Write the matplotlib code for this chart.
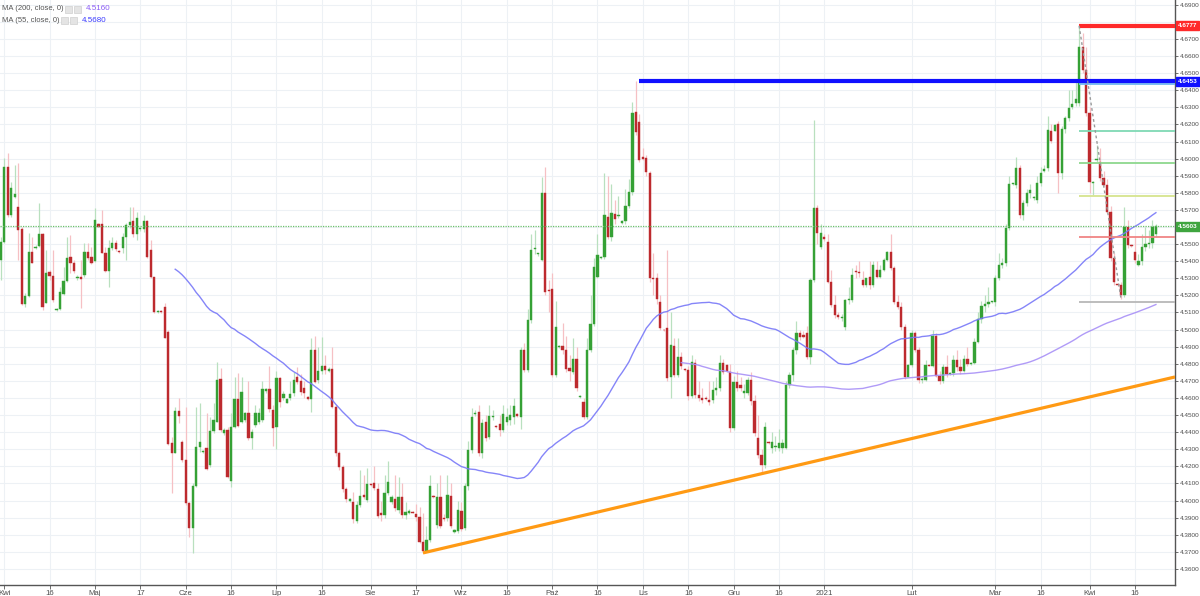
import numpy as np
import pandas as pd
import matplotlib
matplotlib.use("Agg")
import matplotlib.pyplot as plt
from matplotlib.patches import Rectangle

plt.rcParams['font.family'] = ['Liberation Sans', 'DejaVu Sans']

# ---------------- data ----------------
start_date = "2020-03-26"
end_date = "2021-04-23"
missing_days = ["2020-12-25", "2021-01-01"]   # no bar on these days (Saturdays also absent)

opens = [
 4.5350, 4.5300, 4.5250, 4.5200, 4.5407, 4.5514, 4.5953, 4.5670, 4.5778, 4.5719,
 4.5587, 4.5150, 4.5197, 4.5456, 4.5475, 4.5489, 4.5557, 4.5158, 4.5339, 4.5314,
 4.5115, 4.5119, 4.5206, 4.5286, 4.5427, 4.5392, 4.5300, 4.5310, 4.5320, 4.5456,
 4.5427, 4.5403, 4.5618, 4.5616, 4.5450, 4.5343, 4.5479, 4.5505, 4.5458, 4.5475,
 4.5544, 4.5612, 4.5635, 4.5557, 4.5587, 4.5587, 4.5635, 4.5466, 4.5306, 4.5105,
 4.5111, 4.5134, 4.4988, 4.4339, 4.4280, 4.4526, 4.4341, 4.4238, 4.3984, 4.3838,
 4.4086, 4.4312, 4.4282, 4.4306, 4.4208, 4.4409, 4.4462, 4.4709, 4.4394, 4.4413,
 4.4117, 4.4433, 4.4594, 4.4462, 4.4471, 4.4514, 4.4364, 4.4442, 4.4462, 4.4471,
 4.4640, 4.4651, 4.4530, 4.4432, 4.4715, 4.4600, 4.4573, 4.4598, 4.4627, 4.4725,
 4.4701, 4.4657, 4.4604, 4.4594, 4.4881, 4.4705, 4.4758, 4.4787, 4.4760, 4.4768,
 4.4549, 4.4276, 4.4198, 4.4066, 4.3998, 4.3994, 4.3881, 4.3974, 4.4033, 4.4004,
 4.4095, 4.4105, 4.4066, 4.3929, 4.3916, 4.4046, 4.3990, 4.4007, 4.3945, 4.4023,
 4.3916, 4.3929, 4.3935, 4.3922, 4.3902, 4.3760, 4.3705, 4.3770, 4.4023, 4.3857,
 4.4023, 4.3900, 4.3896, 4.4027, 4.3818, 4.3822, 4.3941, 4.3838, 4.4085, 4.4296,
 4.4505, 4.4520, 4.4277, 4.4462, 4.4374, 4.4490, 4.4437, 4.4448, 4.4413, 4.4462,
 4.4472, 4.4487, 4.4507, 4.4491, 4.4881, 4.4764, 4.5057, 4.5470, 4.5441, 4.5408,
 4.5797, 4.5232, 4.5236, 4.4735, 4.4901, 4.4904, 4.4881, 4.4774, 4.4754, 4.4827,
 4.4608, 4.4579, 4.4491, 4.4881, 4.5031, 4.5310, 4.5420, 4.5427, 4.5661, 4.5544,
 4.5676, 4.5665, 4.5626, 4.5636, 4.5725, 4.5807, 4.6275, 4.6212, 4.6010, 4.6002,
 4.5914, 4.5300, 4.5300, 4.5164, 4.4998, 4.5008, 4.4725, 4.4904, 4.4735, 4.4842,
 4.4768, 4.4764, 4.4612, 4.4803, 4.4618, 4.4600, 4.4600, 4.4589, 4.4589, 4.4647,
 4.4657, 4.4803, 4.4793, 4.4754, 4.4423, 4.4696, 4.4676, 4.4628, 4.4628, 4.4706,
 4.4580, 4.4365, 4.4267, 4.4208, 4.4345, 4.4306, 4.4316, 4.4306, 4.4306, 4.4306,
 4.4676, 4.4735, 4.4881, 4.4979, 4.4969, 4.4979, 4.4842, 4.5290, 4.5709, 4.5485,
 4.5540, 4.5515, 4.5281, 4.5144, 4.5086, 4.5066, 4.5017, 4.5173, 4.5173, 4.5339,
 4.5335, 4.5290, 4.5261, 4.5310, 4.5261, 4.5349, 4.5310, 4.5349, 4.5407, 4.5456,
 4.5359, 4.5164, 4.5135, 4.5017, 4.4725, 4.4793, 4.4979, 4.4881, 4.4706, 4.4706,
 4.4793, 4.4790, 4.4960, 4.4730, 4.4700, 4.4780, 4.4740, 4.4745, 4.4820, 4.4780,
 4.4760, 4.4830, 4.4800, 4.4805, 4.4930, 4.5060, 4.5140, 4.5150, 4.5163, 4.5163,
 4.5300, 4.5378, 4.5388, 4.5592, 4.5851, 4.5846, 4.5943, 4.5670, 4.5738, 4.5797,
 4.5768, 4.5758, 4.5855, 4.5929, 4.5943, 4.6163, 4.6163, 4.6202, 4.5918, 4.6171,
 4.6235, 4.6304, 4.6323, 4.6323, 4.6655, 4.6518, 4.6265, 4.5859, 4.5992, 4.5982,
 4.5885, 4.5846, 4.5690, 4.5417, 4.5265, 4.5261, 4.5202, 4.5602, 4.5495, 4.5456,
 4.5378, 4.5400, 4.5481, 4.5500, 4.5505, 4.5560]

highs = [
 4.5500, 4.5400, 4.5260, 4.5300, 4.5544, 4.6002, 4.6031, 4.5865, 4.5963, 4.5973,
 4.5602, 4.5212, 4.5563, 4.5544, 4.5495, 4.5739, 4.5563, 4.5466, 4.5349, 4.5466,
 4.5125, 4.5251, 4.5368, 4.5544, 4.5553, 4.5407, 4.5320, 4.5407, 4.5505, 4.5505,
 4.5485, 4.5709, 4.5622, 4.5700, 4.5485, 4.5524, 4.5544, 4.5524, 4.5466, 4.5563,
 4.5622, 4.5719, 4.5719, 4.5690, 4.5602, 4.5670, 4.5641, 4.5524, 4.5310, 4.5115,
 4.5115, 4.5154, 4.4998, 4.4374, 4.4550, 4.4598, 4.4355, 4.4550, 4.3994, 4.4101,
 4.4550, 4.4569, 4.4296, 4.4511, 4.4491, 4.4569, 4.4813, 4.4774, 4.4423, 4.4433,
 4.4511, 4.4725, 4.4744, 4.4725, 4.4520, 4.4700, 4.4420, 4.4560, 4.4540, 4.4700,
 4.4660, 4.4790, 4.4560, 4.4760, 4.4725, 4.4640, 4.4600, 4.4700, 4.4750, 4.4780,
 4.4740, 4.4700, 4.4610, 4.4950, 4.4960, 4.4900, 4.4959, 4.4850, 4.4780, 4.4900,
 4.4560, 4.4290, 4.4210, 4.4080, 4.4015, 4.4050, 4.4000, 4.4180, 4.4150, 4.4190,
 4.4100, 4.4200, 4.4100, 4.4000, 4.4150, 4.4230, 4.4030, 4.4150, 4.4140, 4.4100,
 4.3990, 4.3950, 4.3940, 4.3980, 4.3960, 4.3926, 4.3850, 4.4150, 4.4030, 4.4100,
 4.4150, 4.3920, 4.4150, 4.4100, 4.3835, 4.4000, 4.3990, 4.4100, 4.4350, 4.4540,
 4.4530, 4.4560, 4.4480, 4.4500, 4.4560, 4.4530, 4.4445, 4.4500, 4.4560, 4.4540,
 4.4560, 4.4600, 4.4515, 4.4900, 4.4920, 4.5120, 4.5560, 4.5580, 4.5450, 4.5890,
 4.5953, 4.5290, 4.5330, 4.5170, 4.4910, 4.5040, 4.4960, 4.4850, 4.4950, 4.4900,
 4.4615, 4.4600, 4.4950, 4.5200, 4.5420, 4.5560, 4.5430, 4.5914, 4.5900, 4.5850,
 4.5760, 4.5780, 4.5640, 4.5820, 4.5880, 4.6333, 4.6453, 4.6260, 4.6060, 4.6020,
 4.5930, 4.5450, 4.5330, 4.5200, 4.5005, 4.5466, 4.5100, 4.4950, 4.4950, 4.4870,
 4.4775, 4.4790, 4.4850, 4.4830, 4.4700, 4.4660, 4.4610, 4.4700, 4.4700, 4.4720,
 4.4850, 4.4830, 4.4800, 4.4800, 4.4730, 4.4760, 4.4720, 4.4680, 4.4720, 4.4750,
 4.4620, 4.4500, 4.4300, 4.4460, 4.4350, 4.4400, 4.4380, 4.4420, 4.4360, 4.4700,
 4.4750, 4.4900, 4.5050, 4.5000, 4.4990, 4.5020, 4.5300, 4.6226, 4.5730, 4.5620,
 4.5560, 4.5560, 4.5350, 4.5200, 4.5100, 4.5090, 4.5180, 4.5250, 4.5360, 4.5380,
 4.5400, 4.5340, 4.5300, 4.5400, 4.5400, 4.5400, 4.5380, 4.5420, 4.5460, 4.5560,
 4.5370, 4.5200, 4.5160, 4.5030, 4.4800, 4.5000, 4.4990, 4.4900, 4.4720, 4.4820,
 4.4800, 4.5000, 4.4980, 4.4760, 4.4800, 4.4850, 4.4750, 4.4850, 4.4880, 4.4830,
 4.4850, 4.4900, 4.4810, 4.4950, 4.5100, 4.5170, 4.5200, 4.5250, 4.5170, 4.5320,
 4.5450, 4.5420, 4.5620, 4.5900, 4.5860, 4.6010, 4.5960, 4.5760, 4.5820, 4.5850,
 4.5780, 4.5900, 4.5950, 4.5960, 4.6250, 4.6200, 4.6200, 4.6220, 4.6190, 4.6250,
 4.6400, 4.6400, 4.6450, 4.6777, 4.6733, 4.6650, 4.6300, 4.5870, 4.6080, 4.6060,
 4.5930, 4.5880, 4.5720, 4.5450, 4.5270, 4.5280, 4.5719, 4.5641, 4.5500, 4.5550,
 4.5440, 4.5560, 4.5600, 4.5580, 4.5640, 4.5620]

lows = [
 4.5250, 4.5200, 4.5190, 4.5150, 4.5290, 4.5505, 4.5661, 4.5661, 4.5768, 4.5407,
 4.5144, 4.5134, 4.5193, 4.5388, 4.5470, 4.5485, 4.5115, 4.5154, 4.5290, 4.5164,
 4.5111, 4.5115, 4.5203, 4.5281, 4.5329, 4.5329, 4.5290, 4.5125, 4.5310, 4.5407,
 4.5384, 4.5397, 4.5598, 4.5446, 4.5339, 4.5251, 4.5466, 4.5462, 4.5446, 4.5446,
 4.5407, 4.5592, 4.5544, 4.5524, 4.5579, 4.5573, 4.5417, 4.5300, 4.5099, 4.5099,
 4.5099, 4.4949, 4.4325, 4.4043, 4.4277, 4.4452, 4.4228, 4.3975, 4.3789, 4.3692,
 4.4082, 4.4286, 4.4277, 4.4179, 4.4199, 4.4394, 4.4462, 4.4403, 4.4384, 4.4130,
 4.4082, 4.4423, 4.4433, 4.4452, 4.4462, 4.4355, 4.4300, 4.4430, 4.4450, 4.4460,
 4.4630, 4.4520, 4.4320, 4.4300, 4.4550, 4.4590, 4.4570, 4.4590, 4.4610, 4.4680,
 4.4620, 4.4600, 4.4590, 4.4520, 4.4690, 4.4690, 4.4740, 4.4740, 4.4750, 4.4540,
 4.4260, 4.4180, 4.4050, 4.3990, 4.3990, 4.3870, 4.3870, 4.3960, 4.4010, 4.3990,
 4.4085, 4.4060, 4.3900, 4.3880, 4.3900, 4.4030, 4.3980, 4.3940, 4.3930, 4.3900,
 4.3890, 4.3920, 4.3925, 4.3880, 4.3750, 4.3695, 4.3700, 4.3760, 4.4015, 4.3840,
 4.3840, 4.3880, 4.3880, 4.3840, 4.3810, 4.3810, 4.3820, 4.3830, 4.4060, 4.4280,
 4.4495, 4.4260, 4.4250, 4.4350, 4.4360, 4.4470, 4.4425, 4.4380, 4.4400, 4.4440,
 4.4440, 4.4450, 4.4490, 4.4420, 4.4750, 4.4750, 4.5040, 4.5440, 4.5430, 4.5400,
 4.5200, 4.5100, 4.4720, 4.4720, 4.4895, 4.4860, 4.4750, 4.4700, 4.4740, 4.4640,
 4.4600, 4.4480, 4.4480, 4.4870, 4.5020, 4.5300, 4.5410, 4.5410, 4.5530, 4.5520,
 4.5620, 4.5650, 4.5620, 4.5620, 4.5710, 4.5790, 4.6140, 4.5980, 4.5990, 4.5900,
 4.5280, 4.5200, 4.5150, 4.5000, 4.4990, 4.4700, 4.4600, 4.4720, 4.4720, 4.4770,
 4.4760, 4.4590, 4.4600, 4.4600, 4.4580, 4.4570, 4.4590, 4.4560, 4.4570, 4.4620,
 4.4640, 4.4740, 4.4754, 4.4400, 4.4410, 4.4640, 4.4640, 4.4600, 4.4620, 4.4560,
 4.4380, 4.4250, 4.4160, 4.4190, 4.4330, 4.4280, 4.4290, 4.4290, 4.4280, 4.4300,
 4.4660, 4.4700, 4.4860, 4.4940, 4.4950, 4.4830, 4.4800, 4.5280, 4.5500, 4.5470,
 4.5520, 4.5270, 4.5130, 4.5070, 4.5060, 4.5050, 4.5000, 4.5150, 4.5160, 4.5300,
 4.5310, 4.5250, 4.5250, 4.5240, 4.5250, 4.5300, 4.5300, 4.5340, 4.5400, 4.5350,
 4.5150, 4.5120, 4.5000, 4.4710, 4.4720, 4.4780, 4.4870, 4.4690, 4.4690, 4.4700,
 4.4785, 4.4780, 4.4720, 4.4680, 4.4690, 4.4720, 4.4735, 4.4730, 4.4760, 4.4740,
 4.4750, 4.4790, 4.4795, 4.4800, 4.4920, 4.5040, 4.5100, 4.5130, 4.5155, 4.5140,
 4.5290, 4.5360, 4.5370, 4.5580, 4.5845, 4.5830, 4.5650, 4.5640, 4.5720, 4.5770,
 4.5760, 4.5740, 4.5840, 4.5920, 4.5930, 4.6090, 4.6160, 4.5800, 4.5880, 4.6150,
 4.6220, 4.6290, 4.6310, 4.6310, 4.6500, 4.6250, 4.5800, 4.5790, 4.5980, 4.5870,
 4.5840, 4.5680, 4.5400, 4.5260, 4.5255, 4.5180, 4.5190, 4.5480, 4.5485, 4.5390,
 4.5370, 4.5380, 4.5460, 4.5480, 4.5480, 4.5540]

closes = [
 4.5300, 4.5250, 4.5200, 4.5190, 4.5514, 4.5953, 4.5670, 4.5826, 4.5791, 4.5583,
 4.5150, 4.5197, 4.5456, 4.5392, 4.5485, 4.5557, 4.5134, 4.5329, 4.5314, 4.5173,
 4.5119, 4.5222, 4.5286, 4.5417, 4.5392, 4.5343, 4.5306, 4.5294, 4.5456, 4.5417,
 4.5392, 4.5641, 4.5602, 4.5450, 4.5343, 4.5479, 4.5505, 4.5470, 4.5452, 4.5544,
 4.5612, 4.5631, 4.5557, 4.5651, 4.5592, 4.5635, 4.5427, 4.5306, 4.5105, 4.5109,
 4.5105, 4.4953, 4.4331, 4.4280, 4.4526, 4.4495, 4.4238, 4.3984, 4.3838, 4.4086,
 4.4312, 4.4341, 4.4286, 4.4185, 4.4409, 4.4472, 4.4705, 4.4413, 4.4413, 4.4140,
 4.4433, 4.4594, 4.4436, 4.4637, 4.4510, 4.4364, 4.4403, 4.4510, 4.4510, 4.4651,
 4.4651, 4.4534, 4.4423, 4.4715, 4.4579, 4.4623, 4.4592, 4.4623, 4.4705, 4.4696,
 4.4637, 4.4627, 4.4596, 4.4881, 4.4696, 4.4758, 4.4787, 4.4764, 4.4770, 4.4549,
 4.4276, 4.4198, 4.4066, 4.4007, 4.4010, 4.3890, 4.3974, 4.4027, 4.4023, 4.4095,
 4.4090, 4.4072, 4.3910, 4.3916, 4.4046, 4.4111, 4.4020, 4.3955, 4.4023, 4.3916,
 4.3935, 4.3941, 4.3929, 4.3902, 4.3760, 4.3705, 4.3770, 4.4087, 4.4019, 4.4019,
 4.3851, 4.3890, 4.4033, 4.3851, 4.3828, 4.3945, 4.3832, 4.4085, 4.4296, 4.4491,
 4.4515, 4.4277, 4.4452, 4.4365, 4.4495, 4.4497, 4.4429, 4.4413, 4.4507, 4.4491,
 4.4501, 4.4554, 4.4497, 4.4881, 4.4764, 4.5057, 4.5466, 4.5476, 4.5446, 4.5797,
 4.5222, 4.5226, 4.4735, 4.5018, 4.4904, 4.4881, 4.4768, 4.4760, 4.4827, 4.4657,
 4.4612, 4.4491, 4.4881, 4.5031, 4.5368, 4.5437, 4.5427, 4.5671, 4.5544, 4.5684,
 4.5645, 4.5670, 4.5636, 4.5725, 4.5807, 4.6265, 4.6158, 4.5992, 4.5995, 4.5924,
 4.5300, 4.5294, 4.5177, 4.5012, 4.4995, 4.4715, 4.4910, 4.4735, 4.4842, 4.4788,
 4.4765, 4.4612, 4.4813, 4.4618, 4.4600, 4.4589, 4.4595, 4.4579, 4.4647, 4.4657,
 4.4803, 4.4754, 4.4760, 4.4423, 4.4696, 4.4657, 4.4657, 4.4640, 4.4706, 4.4580,
 4.4394, 4.4267, 4.4208, 4.4433, 4.4335, 4.4345, 4.4320, 4.4335, 4.4335, 4.4676,
 4.4735, 4.4881, 4.4979, 4.4959, 4.4959, 4.4842, 4.5290, 4.5709, 4.5563, 4.5563,
 4.5530, 4.5281, 4.5144, 4.5086, 4.5076, 4.5070, 4.5173, 4.5173, 4.5320, 4.5335,
 4.5329, 4.5261, 4.5300, 4.5261, 4.5378, 4.5310, 4.5349, 4.5407, 4.5456, 4.5359,
 4.5164, 4.5135, 4.5017, 4.4725, 4.4793, 4.4979, 4.4881, 4.4706, 4.4710, 4.4793,
 4.4790, 4.4960, 4.4730, 4.4700, 4.4780, 4.4740, 4.4745, 4.4820, 4.4780, 4.4760,
 4.4830, 4.4800, 4.4805, 4.4930, 4.5060, 4.5140, 4.5150, 4.5163, 4.5165, 4.5300,
 4.5378, 4.5388, 4.5592, 4.5851, 4.5855, 4.5943, 4.5670, 4.5738, 4.5797, 4.5816,
 4.5775, 4.5855, 4.5918, 4.5937, 4.6167, 4.6105, 4.6196, 4.5918, 4.6171, 4.6235,
 4.6294, 4.6319, 4.6347, 4.6655, 4.6518, 4.6265, 4.5865, 4.5862, 4.5996, 4.5885,
 4.5846, 4.5690, 4.5417, 4.5280, 4.5261, 4.5202, 4.5602, 4.5495, 4.5490, 4.5407,
 4.5400, 4.5481, 4.5500, 4.5508, 4.5602, 4.5603]

# x-axis labels (date -> text)
tick_dates = ["2020-04-01", "2020-04-16", "2020-05-01", "2020-05-17", "2020-06-01",
              "2020-06-16", "2020-07-01", "2020-07-16", "2020-08-02", "2020-08-17",
              "2020-09-01", "2020-09-16", "2020-10-01", "2020-10-16", "2020-11-01",
              "2020-11-16", "2020-12-01", "2020-12-16", "2021-01-03", "2021-02-01",
              "2021-03-01", "2021-03-16", "2021-04-01", "2021-04-16"]
tick_texts = ["Kwi", "16", "Maj", "17", "Cze", "16", "Lip", "16", "Sie", "17",
              "Wrz", "16", "Paź", "16", "Lis", "16", "Gru", "16", "2021", "Lut",
              "Mar", "16", "Kwi", "16"]

# drawings
resistance_level = 4.6453
resistance_start = "2020-10-30"
top_level = 4.6777
top_start = "2021-03-29"
trend_start = ("2020-08-19", 4.3694)
trend_end_price = 4.4723
fib_levels = [4.6436, 4.6163, 4.5972, 4.5781, 4.5543, 4.5163]
fib_colors = ["#6fb8f0", "#7fd9b4", "#8ed88e", "#d6e48e", "#f08585", "#b8b8b8"]
fib_start = "2021-03-29"
fib_line = [("2021-03-29", 4.6777), ("2021-04-12", 4.5180)]
last_price = 4.5603
legend_rows = [("MA (200, close, 0)", "4.5160", "#8a5cf6"),
               ("MA (55, close, 0)", "4.5680", "#3b3bff")]

# ---------------- figure ----------------
W, H = 1200, 596
fig = plt.figure(figsize=(W / 100, H / 100), dpi=100)
ax_bottom_px = 585
ax_right_px = 1175
ax = fig.add_axes([0, (H - ax_bottom_px) / H, ax_right_px / W, ax_bottom_px / H])
fig.patch.set_facecolor("white")

cal = pd.date_range(start_date, end_date)
cal = cal[(cal.weekday != 5) & ~cal.isin(pd.to_datetime(missing_days))]
x = np.arange(len(cal))
pos = {d: i for i, d in enumerate(cal)}

def xi(d):
    return pos[pd.Timestamp(d)]

o = np.array(opens); h = np.array(highs); l = np.array(lows); c = np.array(closes)
up = c >= o
bot = np.minimum(o, c)
hgt = np.maximum(np.abs(c - o), 0.00055)

green = "#35a135"
red = "#bd2a2e"
ax.vlines(x[up], l[up], h[up], color="#b9e0bf", lw=0.9, zorder=2)
ax.vlines(x[~up], l[~up], h[~up], color="#f6c0c4", lw=0.9, zorder=2)
ax.bar(x[up], hgt[up], bottom=bot[up], width=0.64, color=green, edgecolor=green, lw=0.3, zorder=3)
ax.bar(x[~up], hgt[~up], bottom=bot[~up], width=0.64, color=red, edgecolor=red, lw=0.3, zorder=3)

s = pd.Series(c)
ma55 = s.rolling(55).mean()
ma200 = s.rolling(200).mean()
ax.plot(x, ma55, color="#7878f8", lw=1.0, alpha=0.9, zorder=4)
ax.plot(x, ma200, color="#a890f7", lw=1.0, alpha=0.9, zorder=4)

x_left = xi("2020-04-01") - 1.2
x_right = xi("2020-04-01") + 335.47
y_bottom, y_top = 4.35064, 4.69275
ax.set_xlim(x_left, x_right)
ax.set_ylim(y_bottom, y_top)

# drawings
ax.hlines(last_price, x_left, x_right, color="#6cc06c", lw=0.9, linestyles=(0, (1, 1)), zorder=4)
ax.hlines(resistance_level, xi(resistance_start), x_right, color="#1010ff", lw=3, zorder=5)
ax.hlines(top_level, xi(top_start), x_right, color="#ff2a2a", lw=3, zorder=5)
for lev, col in zip(fib_levels, fib_colors):
    ax.hlines(lev, xi(fib_start), x_right, color=col, lw=1.3, zorder=4)
ax.plot([xi(fib_line[0][0]), xi(fib_line[1][0])], [fib_line[0][1], fib_line[1][1]],
        color="#9a9a9a", lw=1.0, linestyle=(0, (2, 2)), zorder=5)
tx0 = xi(trend_start[0])
ax.plot([tx0, x_right], [trend_start[1], trend_end_price], color="#ff9a14", lw=2.3, zorder=5,
        solid_capstyle="butt")

# grid and axes
yt = np.round(np.arange(4.36, 4.6951, 0.01), 2)
ax.set_yticks(yt)
hidden = {4.68, 4.56}
ax.set_yticklabels(["" if v in hidden else f"{v:.4f}" for v in yt])
ax.yaxis.tick_right()
ax.set_xticks([xi(d) for d in tick_dates])
ax.set_xticklabels(tick_texts)
ax.grid(True, color="#edf1f5", lw=0.8, zorder=0)
ax.set_axisbelow(True)
for sp in ["left", "top"]:
    ax.spines[sp].set_visible(False)
for sp in ["right", "bottom"]:
    ax.spines[sp].set_color("#555555")
    ax.spines[sp].set_linewidth(1.0)
ax.tick_params(axis="y", direction="out", length=2.5, width=0.6, colors="#555555",
               labelsize=4.6, pad=0.8, labelcolor="#4d4d4d")
ax.tick_params(axis="x", direction="out", length=3, width=0.6, colors="#555555",
               labelsize=5.6, pad=0.6, labelcolor="#4d4d4d")

# price labels on axis
for val, col in [(top_level, "#ff2a2a"), (resistance_level, "#1010ff"), (last_price, "#3fa53f")]:
    ax.text(1.0 + 3.0 / ax_right_px, val, f"{val:.4f}", transform=ax.get_yaxis_transform(),
            ha="left", va="center", fontsize=4.6, color="white", fontweight="bold",
            bbox=dict(boxstyle="square,pad=0.3", fc=col, ec=col), clip_on=False, zorder=10)

# legend at top-left
for k, (name, val, vcol) in enumerate(legend_rows):
    yy = 1 - (9 + 11.5 * k) / H
    fig.text(2 / W, yy, name, fontsize=5.5, color="#555555", va="center", ha="left")
    x0 = (65 if k == 0 else 61)
    for j in range(2):
        fig.patches.append(Rectangle(((x0 + j * 9) / W, yy - 3.5 / H), 7 / W, 7 / H,
                                     transform=fig.transFigure, fc="#e4e4e4", ec="#cfcfcf",
                                     lw=0.5))
    fig.text((x0 + 21) / W, yy, val, fontsize=5.8, color=vcol, va="center", ha="left")

fig.savefig("out.png", dpi=100, facecolor="white")
